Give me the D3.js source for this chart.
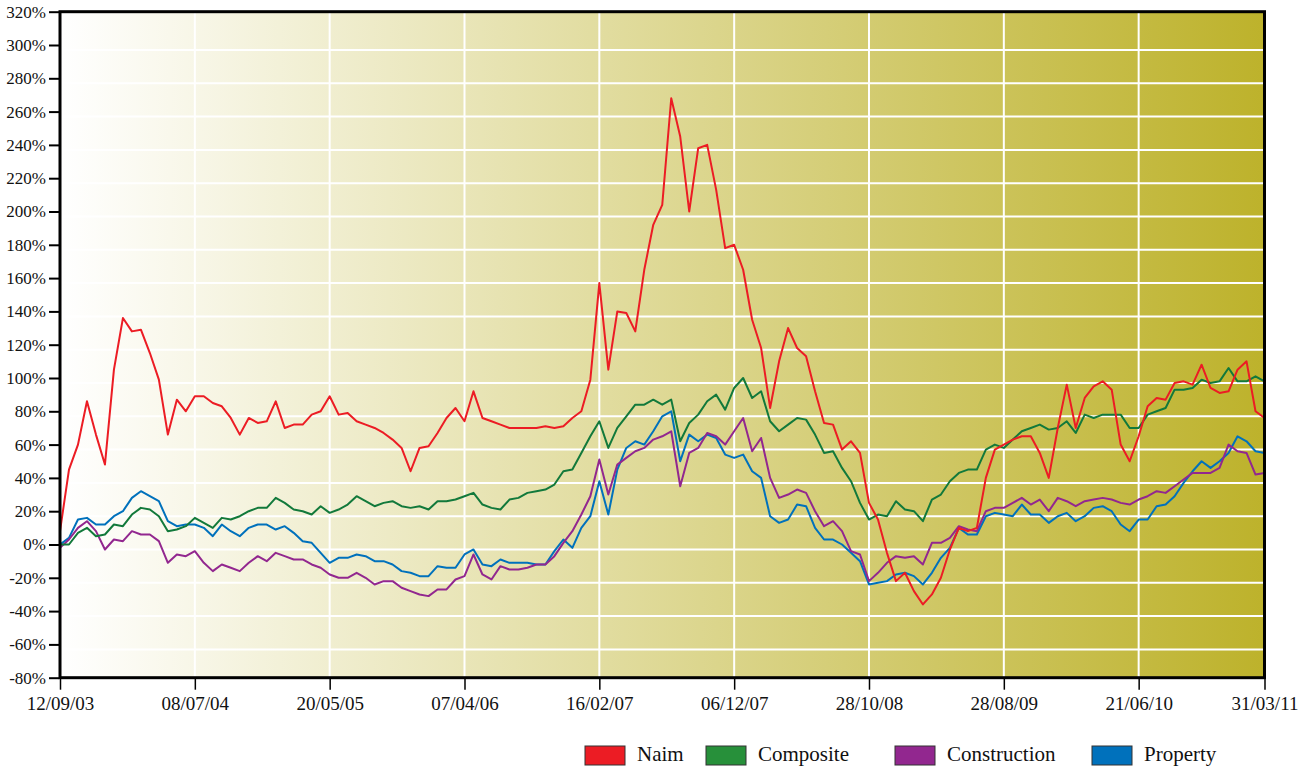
<!DOCTYPE html>
<html>
<head>
<meta charset="utf-8">
<script src="https://cdn.jsdelivr.net/npm/d3@7"></script>
<style>
  body { margin: 0; background: #ffffff; }
  text { font-family: "Liberation Serif", "Times New Roman", serif; fill: #111; }
</style>
</head>
<body>
<div id="chart"></div>
<script>
// Tick labels along the bottom and the point index each one sits on
var tickLabels = ["12/09/03", "08/07/04", "20/05/05", "07/04/06", "16/02/07",
                  "06/12/07", "28/10/08", "28/08/09", "21/06/10", "31/03/11"];
var tickIndex = [0, 15, 30, 45, 60, 75, 90, 105, 120, 134];

var seriesNames = ["Naim", "Composite", "Construction", "Property"];
var seriesColors = ["#ec1c24", "#12793b", "#92278f", "#0071bc"];

// % return since 12/09/03, one value per period
var naim = [8,45,60,86,66,48,105,136,128,129,
  115,99,66,87,80,89,89,85,83,76,
  66,76,73,74,86,70,72,72,78,80,
  89,78,79,74,72,70,67,63,58,44,
  58,59,67,76,82,74,92,76,74,72,
  70,70,70,70,71,70,71,76,80,99,
  157,105,140,139,128,165,192,204,268,245,
  200,238,240,213,178,180,165,135,118,82,
  110,130,118,113,92,73,72,57,62,55,
  25,15,-5,-22,-17,-28,-36,-30,-20,-3,
  10,8,10,40,57,60,63,65,65,55,
  40,70,96,70,88,95,98,93,60,50,
  65,83,88,87,97,98,96,108,94,91,
  92,105,110,80,76];

var composite = [0,0,7,10,5,6,12,11,18,22,
  21,17,8,9,11,16,13,10,16,15,
  17,20,22,22,28,25,21,20,18,23,
  19,21,24,29,26,23,25,26,23,22,
  23,21,26,26,27,29,31,24,22,21,
  27,28,31,32,33,36,44,45,55,65,
  74,58,70,77,84,84,87,84,87,62,
  73,78,86,90,81,94,100,88,92,74,
  68,72,76,75,66,55,56,46,38,25,
  15,18,17,26,21,20,14,27,30,38,
  43,45,45,57,60,58,63,68,70,72,
  69,70,74,67,78,76,78,78,78,70,
  70,78,80,82,93,93,94,99,97,98,
  106,98,98,101,98];

var construction = [-2,3,10,14,8,-3,3,2,8,6,
  6,2,-11,-6,-7,-4,-11,-16,-12,-14,
  -16,-11,-7,-10,-5,-7,-9,-9,-12,-14,
  -18,-20,-20,-17,-20,-24,-22,-22,-26,-28,
  -30,-31,-27,-27,-21,-19,-6,-18,-21,-13,
  -15,-15,-14,-12,-12,-7,1,8,18,29,
  51,30,48,52,56,58,63,65,68,35,
  55,58,67,65,60,68,76,56,64,40,
  28,30,33,31,20,11,14,8,-4,-6,
  -22,-17,-11,-7,-8,-7,-12,1,1,4,
  11,9,8,20,22,22,25,28,24,27,
  20,28,26,23,26,27,28,27,25,24,
  27,29,32,31,35,39,43,43,43,46,
  60,56,55,42,43];

var property = [0,4,15,16,12,12,17,20,28,32,
  29,26,14,11,12,12,10,5,12,8,
  5,10,12,12,9,11,7,2,1,-5,
  -11,-8,-8,-6,-7,-10,-10,-12,-16,-17,
  -19,-19,-13,-14,-14,-6,-3,-12,-13,-9,
  -11,-11,-11,-12,-12,-4,3,-2,10,17,
  38,18,45,58,62,60,68,77,80,50,
  66,62,66,64,54,52,54,44,40,17,
  13,15,24,23,10,3,3,0,-5,-10,
  -24,-23,-22,-18,-17,-19,-24,-17,-8,-2,
  10,6,6,17,19,18,17,24,18,18,
  13,17,19,14,17,22,23,20,12,8,
  15,15,23,24,29,37,44,50,46,50,
  55,65,62,56,55];

var seriesValues = [naim, composite, construction, property];

// svg wrapper
var svgWidth = 1298;
var svgHeight = 767;

var plot = { left: 60, right: 1264.5, top: 11.7, bottom: 677.7 };

var svg = d3.select("#chart")
  .append("svg")
  .attr("width", svgWidth)
  .attr("height", svgHeight);

var x = d3.scaleLinear()
  .domain([0, naim.length - 1])
  .range([plot.left, plot.right]);

var y = d3.scaleLinear()
  .domain([-80, 320])
  .range([plot.bottom, plot.top]);

// background gradient
var defs = svg.append("defs");
var grad = defs.append("linearGradient")
  .attr("id", "bg")
  .attr("x1", "0%").attr("x2", "100%")
  .attr("y1", "0%").attr("y2", "0%");
grad.append("stop").attr("offset", "0%").attr("stop-color", "#ffffff");
grad.append("stop").attr("offset", "100%").attr("stop-color", "#bdb22b");

defs.append("clipPath").attr("id", "plotclip")
  .append("rect")
  .attr("x", plot.left).attr("y", plot.top)
  .attr("width", plot.right - plot.left).attr("height", plot.bottom - plot.top);

svg.append("rect")
  .attr("x", plot.left).attr("y", plot.top)
  .attr("width", plot.right - plot.left).attr("height", plot.bottom - plot.top)
  .attr("fill", "url(#bg)");

// grid lines (the horizontal ones sit a few px under their ticks in the original)
var grid = svg.append("g").attr("clip-path", "url(#plotclip)");

grid.selectAll(".hgrid")
  .data(d3.range(-60, 301, 20))
  .enter()
  .append("line")
  .attr("x1", plot.left).attr("x2", plot.right)
  .attr("y1", d => y(d) + 5).attr("y2", d => y(d) + 5)
  .attr("stroke", "#ffffff")
  .attr("stroke-width", 2);

grid.selectAll(".vgrid")
  .data(tickIndex.slice(1, -1))
  .enter()
  .append("line")
  .attr("x1", d => x(d)).attr("x2", d => x(d))
  .attr("y1", plot.top).attr("y2", plot.bottom)
  .attr("stroke", "#ffffff")
  .attr("stroke-width", 2);

// lines, red drawn last so it stays on top
var line = d3.line()
  .x((d, i) => x(i))
  .y(d => y(d));

var lineGroup = svg.append("g").attr("clip-path", "url(#plotclip)");
[3, 2, 1, 0].forEach(function(k) {
  lineGroup.append("path")
    .datum(seriesValues[k])
    .attr("d", line)
    .attr("fill", "none")
    .attr("stroke", seriesColors[k])
    .attr("stroke-width", 2)
    .attr("stroke-linejoin", "round");
});

// frame
svg.append("rect")
  .attr("x", plot.left).attr("y", plot.top)
  .attr("width", plot.right - plot.left).attr("height", plot.bottom - plot.top)
  .attr("fill", "none")
  .attr("stroke", "#000")
  .attr("stroke-width", 3);

// axes
var leftAxis = d3.axisLeft(y)
  .tickValues(d3.range(-80, 321, 20))
  .tickFormat(d => d + "%")
  .tickSize(10)
  .tickPadding(3);

var bottomAxis = d3.axisBottom(x)
  .tickValues(tickIndex)
  .tickFormat((d, i) => tickLabels[i])
  .tickSize(11)
  .tickPadding(7);

var yAxis = svg.append("g")
  .attr("transform", `translate(${plot.left - 1}, 0)`)
  .call(leftAxis);

var xAxis = svg.append("g")
  .attr("transform", `translate(0, ${plot.bottom + 1})`)
  .call(bottomAxis);

yAxis.select(".domain").remove();
xAxis.select(".domain").remove();
yAxis.selectAll("line").attr("stroke", "#000").attr("stroke-width", 2);
xAxis.selectAll("line").attr("stroke", "#000").attr("stroke-width", 1.5);
yAxis.selectAll("text")
  .attr("font-size", 17)
  .attr("font-family", "Liberation Serif")
  .attr("fill", "#111");
xAxis.selectAll("text")
  .attr("font-size", 19)
  .attr("font-family", "Liberation Serif")
  .attr("fill", "#111");

// legend
var legendX = [585, 706, 895, 1092];
var legend = svg.append("g");
seriesNames.forEach(function(name, k) {
  legend.append("rect")
    .attr("x", legendX[k]).attr("y", 746)
    .attr("width", 40).attr("height", 19)
    .attr("fill", k === 1 ? "#27903a" : seriesColors[k])
    .attr("stroke", "#333")
    .attr("stroke-width", 1);
  legend.append("text")
    .attr("x", legendX[k] + 52)
    .attr("y", 761)
    .attr("font-size", 21)
    .text(name);
});
</script>
</body>
</html>
